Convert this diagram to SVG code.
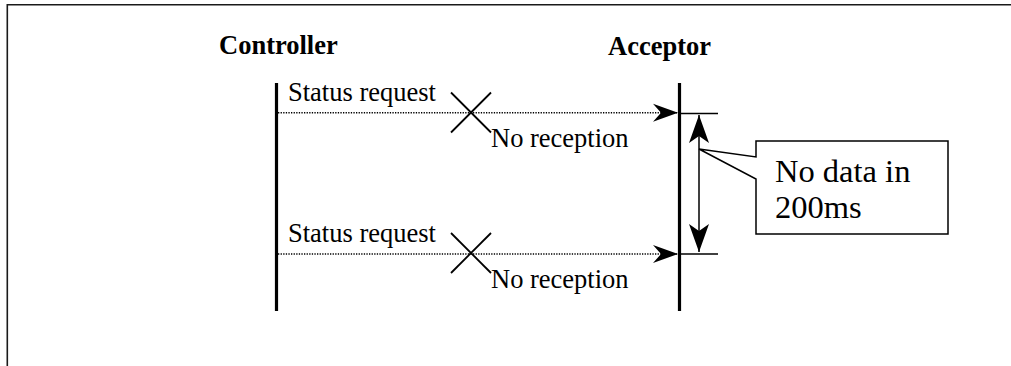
<svg xmlns="http://www.w3.org/2000/svg" width="1011" height="366" viewBox="0 0 1011 366">
  <style>
    .frame { fill: none; stroke: #1a1a1a; stroke-width: 1.6; }
    .head { font-family: "Liberation Serif", "Times New Roman", serif; font-weight: bold; font-size: 26.5px; fill: #000; }
    .lbl { font-family: "Liberation Serif", "Times New Roman", serif; font-size: 26.5px; fill: #000; }
    .note { font-family: "Liberation Serif", "Times New Roman", serif; font-size: 32.5px; fill: #000; }
    .life { stroke: #000; stroke-width: 3.2; }
    .msg { stroke: #000; stroke-width: 1.5; stroke-dasharray: 1.3 1.3; fill: none; }
    .cross { stroke: #000; stroke-width: 1.8; }
    .thin { stroke: #000; stroke-width: 1.5; fill: none; }
  </style>
  <defs>
    <marker id="msgHead" markerUnits="userSpaceOnUse" markerWidth="30" markerHeight="24" refX="25" refY="10" orient="auto" overflow="visible">
      <path d="M25,10 L0,1 L8,10 L0,19 Z" fill="#000"/>
    </marker>
    <marker id="spanHead" markerUnits="userSpaceOnUse" markerWidth="32" markerHeight="24" refX="28" refY="10" orient="auto-start-reverse" overflow="visible">
      <path d="M28,10 L0,0 L7,10 L0,20 Z" fill="#000"/>
    </marker>
  </defs>

  <rect width="1011" height="366" fill="#fff"/>
  <!-- page border: top and left edges -->
  <path class="frame" d="M7.3,366 V4.7 H1011"/>

  <g id="controller">
    <text class="head" x="219" y="54">Controller</text>
    <line class="life" x1="276.5" y1="83" x2="276.5" y2="311"/>
  </g>

  <g id="acceptor">
    <text class="head" x="608" y="55">Acceptor</text>
    <line class="life" x1="679.5" y1="83" x2="679.5" y2="311"/>
  </g>

  <g id="connectors">
    <!-- first status request, lost -->
    <line class="msg" x1="278" y1="112.8" x2="678" y2="112.8" marker-end="url(#msgHead)"/>
    <line class="cross" x1="451" y1="92.5" x2="491" y2="132.5"/>
    <line class="cross" x1="491" y1="92.5" x2="451" y2="132.5"/>
    <!-- second status request, lost -->
    <line class="msg" x1="278" y1="254" x2="678" y2="254" marker-end="url(#msgHead)"/>
    <line class="cross" x1="451" y1="233" x2="491" y2="273"/>
    <line class="cross" x1="491" y1="233" x2="451" y2="273"/>
    <!-- timeout span -->
    <line class="thin" x1="679" y1="113.5" x2="718" y2="113.5"/>
    <line class="thin" x1="679" y1="254" x2="718" y2="254"/>
    <line class="thin" x1="699" y1="115" x2="699" y2="252" marker-start="url(#spanHead)" marker-end="url(#spanHead)"/>
  </g>

  <g id="labels">
    <text class="lbl" x="288" y="100.5">Status request</text>
    <text class="lbl" x="491" y="147">No reception</text>
    <text class="lbl" x="288" y="241.5">Status request</text>
    <text class="lbl" x="491" y="288">No reception</text>
  </g>

  <g id="timeout-note">
    <path class="thin" d="M756,141 H948 V234 H756 V179 L699,149 L756,157 Z" fill="#fff"/>
    <text class="note" x="775" y="182">No data in</text>
    <text class="note" x="775" y="218">200ms</text>
  </g>
</svg>
